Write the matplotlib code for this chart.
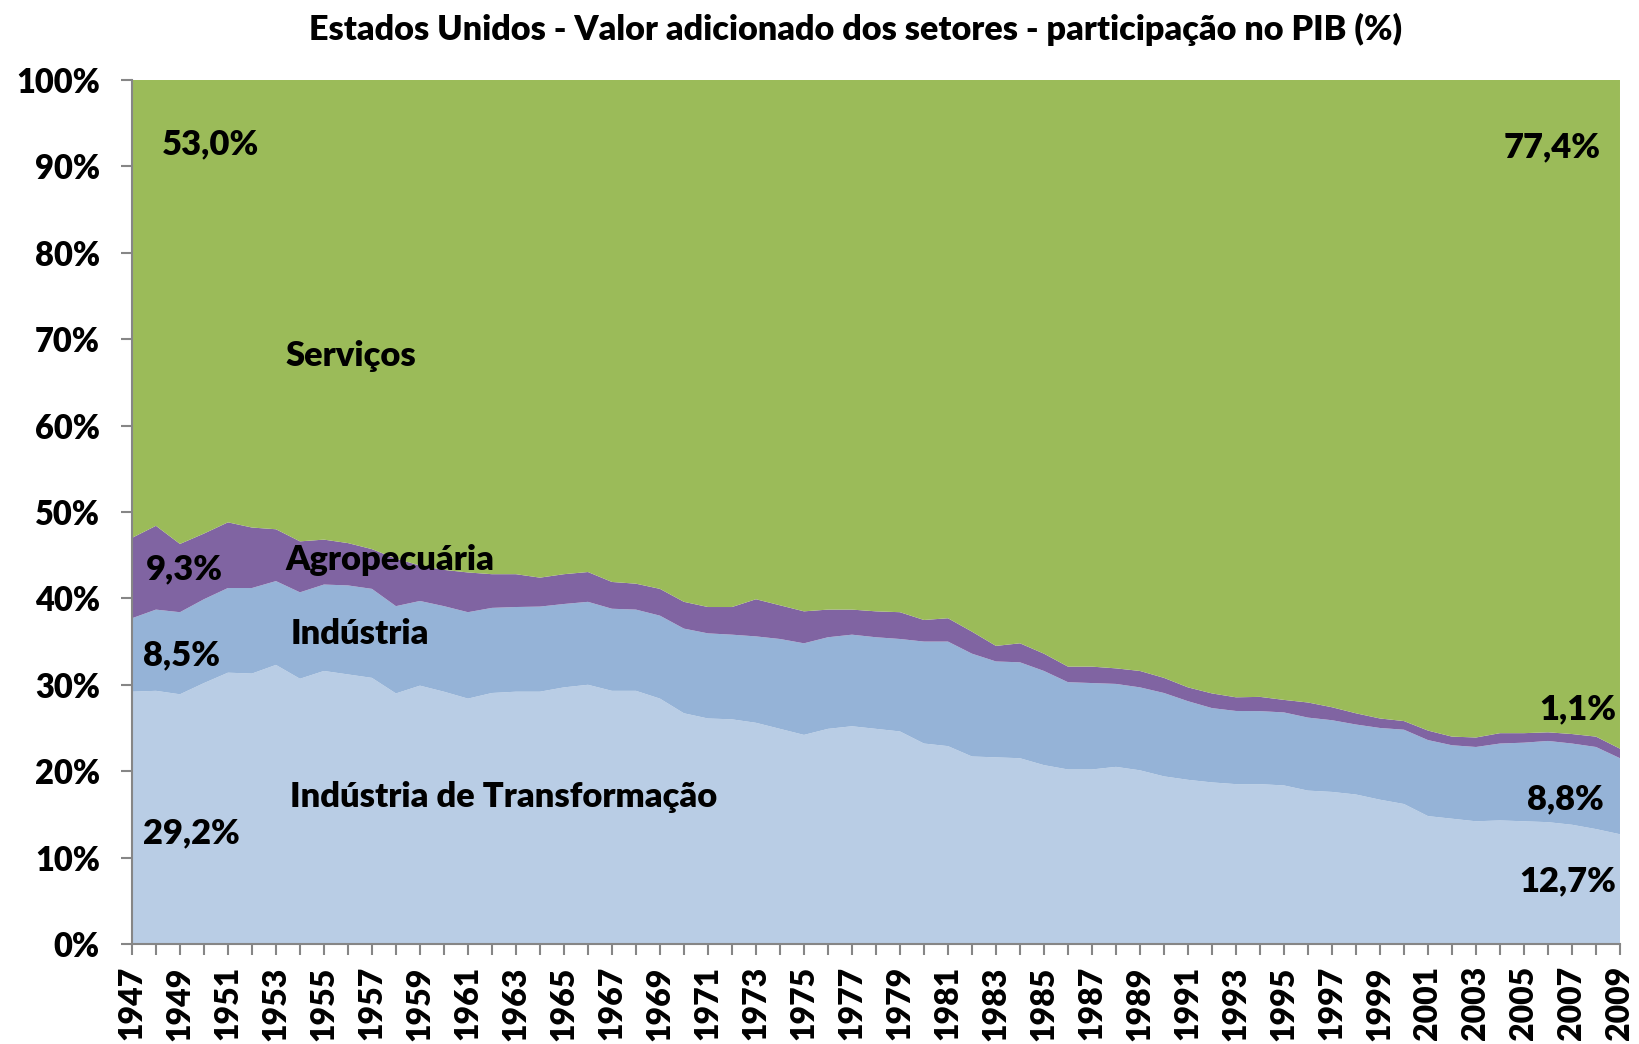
import matplotlib
matplotlib.use("Agg")
import matplotlib.pyplot as plt
from matplotlib.ticker import FixedLocator

years = list(range(1947, 2010))

transformacao = [29.2, 29.3, 28.9, 30.2, 31.4, 31.3, 32.3, 30.7, 31.6, 31.2,
                 30.8, 29.0, 29.9, 29.2, 28.4, 29.05, 29.2, 29.2, 29.7, 30.0,
                 29.3, 29.3, 28.4, 26.7, 26.1, 26.0, 25.6, 24.9, 24.2, 24.9,
                 25.2, 24.9, 24.6, 23.2, 22.9, 21.7, 21.6, 21.5, 20.7, 20.2,
                 20.2, 20.5, 20.1, 19.4, 19.0, 18.7, 18.5, 18.5, 18.35, 17.75,
                 17.6, 17.3, 16.7, 16.2, 14.8, 14.5, 14.2, 14.3, 14.2, 14.1,
                 13.8, 13.3, 12.7]

industria = [8.5, 9.4, 9.5, 9.7, 9.8, 9.9, 9.7, 10.0, 10.0, 10.3,
             10.3, 10.1, 9.8, 9.9, 10.0, 9.85, 9.8, 9.85, 9.65, 9.6,
             9.5, 9.4, 9.6, 9.8, 9.85, 9.8, 10.0, 10.4, 10.6, 10.6,
             10.6, 10.6, 10.7, 11.8, 12.1, 11.9, 11.1, 11.1, 10.9, 10.1,
             10.0, 9.6, 9.6, 9.65, 9.1, 8.6, 8.47, 8.45, 8.45, 8.45,
             8.3, 8.1, 8.3, 8.6, 8.8, 8.5, 8.6, 8.9, 9.1, 9.4,
             9.4, 9.5, 8.8]

agropecuaria = [9.3, 9.7, 7.9, 7.6, 7.6, 7.0, 6.0, 5.9, 5.2, 4.9,
                4.6, 5.5, 4.1, 4.2, 4.6, 3.9, 3.8, 3.35, 3.45, 3.45,
                3.1, 3.0, 3.1, 3.1, 3.05, 3.2, 4.3, 3.9, 3.7, 3.2,
                2.9, 3.0, 3.1, 2.5, 2.7, 2.55, 1.8, 2.2, 2.0, 1.8,
                1.9, 1.8, 1.9, 1.75, 1.6, 1.7, 1.58, 1.65, 1.45, 1.75,
                1.5, 1.3, 1.1, 1.0, 1.1, 1.0, 1.1, 1.2, 1.1, 1.0,
                1.1, 1.2, 1.1]

servicos = [53.0, 51.6, 53.7, 52.5, 51.2, 51.8, 52.0, 53.4, 53.2, 53.6,
            54.3, 55.4, 56.2, 56.7, 57.0, 57.2, 57.2, 57.6, 57.2, 56.95,
            58.1, 58.3, 58.9, 60.4, 61.0, 61.0, 60.1, 60.8, 61.5, 61.3,
            61.3, 61.5, 61.6, 62.5, 62.3, 63.85, 65.5, 65.2, 66.4, 67.9,
            67.9, 68.1, 68.4, 69.2, 70.3, 71.0, 71.45, 71.4, 71.75, 72.05,
            72.6, 73.3, 73.9, 74.2, 75.3, 76.0, 76.1, 75.6, 75.6, 75.5,
            75.7, 76.0, 77.4]

colors = ["#B9CDE5", "#95B3D7", "#8064A2", "#9BBB59"]
yticks = [0, 10, 20, 30, 40, 50, 60, 70, 80, 90, 100]
ytick_labels = [f"{v}%" for v in yticks]
xtick_years = years[::2]

plt.rcParams['font.family'] = ['Lato', 'DejaVu Sans']

W = 'heavy'

fig = plt.figure(figsize=(16.39, 10.44), dpi=100)
ax = fig.add_axes([0.0805, 0.0958, 0.9079, 0.8276])

ax.stackplot(years, transformacao, industria, agropecuaria, servicos,
             colors=colors, linewidth=0)

ax.set_xlim(years[0], years[-1])
ax.set_ylim(0, 100)
ax.set_yticks(yticks)
ax.set_yticklabels(ytick_labels, fontsize=23.5, fontweight=W)
ax.xaxis.set_major_locator(FixedLocator(years))
ax.set_xticklabels([str(y) if y in xtick_years else "" for y in years],
                   rotation=90, fontsize=23, fontweight=W)
ax.tick_params(axis='both', direction='out', length=8, width=1.5,
               color='#868686')
ax.tick_params(axis='y', pad=15)
ax.tick_params(axis='x', pad=8)
for s in ['top', 'right']:
    ax.spines[s].set_visible(False)
for s in ['left', 'bottom']:
    ax.spines[s].set_color('#868686')
    ax.spines[s].set_linewidth(1.5)

fig.text(0.522, 0.972,
         "Estados Unidos - Valor adicionado dos setores - participação no PIB (%)",
         ha='center', va='center', fontsize=24.6, fontweight=W)

kw = dict(fontsize=24.8, fontweight=W, color='black', va='center')
ax.text(1948.25, 92.6, "53,0%", ha='left', **kw)
ax.text(2008.2, 92.2, "77,4%", ha='right', **kw)
ax.text(1953.4, 68.1, "Serviços", ha='left', **kw)
ax.text(1953.4, 44.4, "Agropecuária", ha='left', **kw)
ax.text(1953.6, 35.9, "Indústria", ha='left', **kw)
ax.text(1953.6, 17.0, "Indústria de Transformação", ha='left', **kw)
ax.text(1947.6, 43.4, "9,3%", ha='left', **kw)
ax.text(1947.46, 33.4, "8,5%", ha='left', **kw)
ax.text(1947.46, 12.85, "29,2%", ha='left', **kw)
ax.text(2008.83, 27.2, "1,1%", ha='right', **kw)
ax.text(2008.33, 16.7, "8,8%", ha='right', **kw)
ax.text(2008.83, 7.3, "12,7%", ha='right', **kw)

fig.savefig("out.png", dpi=100)
